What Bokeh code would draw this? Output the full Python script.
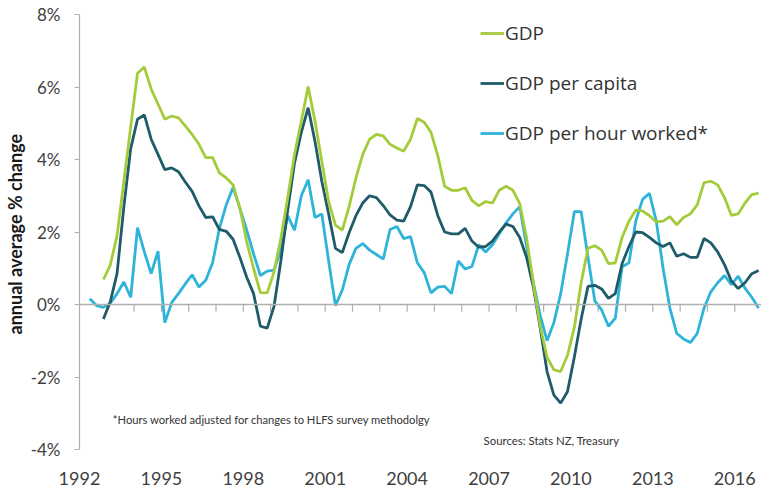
import pandas as pd
from bokeh.plotting import figure
from bokeh.models import Range1d, FixedTicker, Span, Legend, LegendItem, Label
from bokeh.embed import file_html
from bokeh.resources import INLINE

# ---------------- data ----------------
def quarter_positions(start, end):
    pr = pd.period_range(start, end, freq="Q")
    return [p.year + (p.quarter - 1) / 4 + 0.125 for p in pr]

quarters_gdp = quarter_positions("1992Q4", "2016Q4")
quarters_hour = quarter_positions("1992Q2", "2016Q4")

gdp = [0.69, 1.08, 1.9, 3.4, 4.9, 6.38, 6.55, 5.94, 5.53, 5.11,
       5.2, 5.15, 4.93, 4.69, 4.42, 4.05, 4.05, 3.63, 3.49, 3.3,
       2.66, 1.73, 1.0, 0.33, 0.32, 0.9, 1.83, 2.94, 4.14, 5.06,
       6.01, 5.06, 3.95, 2.84, 2.19, 2.05, 2.7, 3.49, 4.14, 4.56,
       4.69, 4.65, 4.42, 4.32, 4.23, 4.56, 5.13, 5.03, 4.75, 4.1,
       3.26, 3.15, 3.15, 3.22, 2.87, 2.72, 2.84, 2.8, 3.15, 3.26,
       3.15, 2.78, 1.85, 0.57, -0.6, -1.45, -1.8, -1.85, -1.4, -0.63,
       0.6, 1.55, 1.62, 1.5, 1.13, 1.15, 1.85, 2.3, 2.6, 2.58,
       2.45, 2.28, 2.3, 2.42, 2.2, 2.4, 2.5, 2.75, 3.36, 3.4,
       3.3, 2.95, 2.46, 2.5, 2.8, 3.03, 3.07]

gdp_per_capita = [-0.4, 0.07, 0.85, 2.7, 4.3, 5.11, 5.23, 4.56, 4.14, 3.72,
                  3.77, 3.66, 3.38, 3.12, 2.72, 2.4, 2.42, 2.07, 2.02, 1.8,
                  1.3, 0.75, 0.3, -0.6, -0.65, -0.05, 1.2, 2.6, 3.9, 4.75,
                  5.43, 4.5, 3.4, 2.5, 1.55, 1.43, 1.98, 2.45, 2.8, 3.0,
                  2.95, 2.73, 2.47, 2.33, 2.3, 2.7, 3.3, 3.28, 3.1, 2.45,
                  2.0, 1.95, 1.95, 2.1, 1.75, 1.58, 1.6, 1.75, 2.0, 2.22,
                  2.15, 1.85, 1.3, 0.48, -0.65, -1.85, -2.5, -2.72, -2.4, -1.45,
                  -0.4, 0.5, 0.53, 0.43, 0.17, 0.3, 1.13, 1.6, 2.0, 1.98,
                  1.85, 1.7, 1.6, 1.7, 1.33, 1.4, 1.3, 1.3, 1.82, 1.7,
                  1.45, 1.1, 0.65, 0.44, 0.6, 0.85, 0.94]

gdp_per_hour = [0.16, -0.03, -0.08, 0.03, 0.3, 0.62, 0.2, 2.12, 1.45, 0.85,
                1.47, -0.5, 0.05, 0.3, 0.57, 0.82, 0.48, 0.67, 1.15, 2.1,
                2.75, 3.23, 2.65, 2.05, 1.4, 0.8, 0.92, 0.95, 1.5, 2.45,
                2.05, 3.0, 3.44, 2.4, 2.5, 1.2, -0.03, 0.4, 1.1, 1.55,
                1.68, 1.5, 1.38, 1.25, 2.07, 2.15, 1.82, 1.87, 1.15, 0.88,
                0.32, 0.48, 0.5, 0.3, 1.2, 0.98, 1.05, 1.65, 1.45, 1.65,
                1.95, 2.25, 2.5, 2.7, 1.6, 0.6, -0.3, -1.0, -0.5, 0.3,
                1.4, 2.56, 2.56, 1.3, 0.1, -0.15, -0.6, -0.38, 1.04, 1.15,
                2.3, 2.9, 3.07, 2.3, 1.0, -0.1, -0.8, -0.95, -1.05, -0.8,
                -0.1, 0.35, 0.6, 0.8, 0.55, 0.78, 0.45, 0.2, -0.1]

series_names = ["GDP", "GDP per capita", "GDP per hour worked*"]
year_ticks = list(range(1993, 2018))
year_labels = [1992, 1995, 1998, 2001, 2004, 2007, 2010, 2013, 2016]
y_ticks = [-4, -2, 0, 2, 4, 6, 8]
y_tick_labels = ["-4%", "-2%", "0%", "2%", "4%", "6%", "8%"]

# ---------------- styling ----------------
GREEN = "#A4CC3A"
DARK = "#1F5B69"
CYAN = "#2DB4D8"
GREY = "#B0B0B0"
TEXT = "#404040"

p = figure(width=761, height=488,
           x_range=Range1d(1992, 2016.98), y_range=Range1d(-4, 8),
           output_backend="svg", toolbar_location=None,
           min_border_left=69, min_border_right=0,
           min_border_top=14, min_border_bottom=39)
p.outline_line_color = None
p.xgrid.visible = False
p.ygrid.visible = False
p.background_fill_color = "white"
p.border_fill_color = "white"

# y axis
p.yaxis.ticker = FixedTicker(ticks=y_ticks)
p.yaxis.major_label_overrides = {t: l for t, l in zip(y_ticks, y_tick_labels)}
p.yaxis.axis_line_color = GREY
p.yaxis.axis_line_width = 1.2
p.yaxis.major_tick_line_color = GREY
p.yaxis.major_tick_out = 5
p.yaxis.major_tick_in = 0
p.yaxis.minor_tick_line_color = None
p.yaxis.major_label_standoff = 14
p.yaxis.major_label_text_font = "Lato"
p.yaxis.major_label_text_font_size = "17px"
p.yaxis.major_label_text_color = TEXT
p.yaxis.axis_label = "annual  average % change"
p.yaxis.axis_label_text_font = "Lato"
p.yaxis.axis_label_text_font_size = "18px"
p.yaxis.axis_label_text_font_style = "bold"
p.yaxis.axis_label_text_color = "#1a1a1a"
p.yaxis.axis_label_standoff = 2

# x axis (labels only)
p.xaxis.ticker = FixedTicker(ticks=year_labels)
p.xaxis.axis_line_color = None
p.xaxis.major_tick_line_color = None
p.xaxis.minor_tick_line_color = None
p.xaxis.major_label_standoff = 16
p.xaxis.major_label_text_font = "Lato"
p.xaxis.major_label_text_font_size = "18px"
p.xaxis.major_label_text_color = TEXT

# zero line with yearly ticks
p.add_layout(Span(location=0, dimension="width", line_color=GREY, line_width=1.5))
p.segment(x0=year_ticks, y0=[0] * len(year_ticks), x1=year_ticks,
          y1=[-0.2] * len(year_ticks), line_color=GREY, line_width=1.2)

# series
r_hour = p.line(quarters_hour, gdp_per_hour, line_color=CYAN, line_width=2.8)
r_cap = p.line(quarters_gdp, gdp_per_capita, line_color=DARK, line_width=2.8)
r_gdp = p.line(quarters_gdp, gdp, line_color=GREEN, line_width=2.8)

legend = Legend(items=[LegendItem(label=series_names[0], renderers=[r_gdp]),
                       LegendItem(label=series_names[1], renderers=[r_cap]),
                       LegendItem(label=series_names[2], renderers=[r_hour])],
                location=(401, 303), orientation="vertical",
                label_text_font="Open Sans", label_text_font_size="19px",
                label_text_color="#333333",
                glyph_width=24, glyph_height=20, label_height=20,
                spacing=24, padding=0, margin=0, label_standoff=1,
                border_line_alpha=0, background_fill_alpha=0)
p.add_layout(legend)

p.add_layout(Label(x=1993.22, y=-3.17,
                   text="*Hours worked adjusted for changes to HLFS survey methodolgy",
                   text_font="Lato", text_font_size="11.2px", text_color="#333333",
                   text_baseline="middle"))
p.add_layout(Label(x=2006.8, y=-3.75, text="Sources:  Stats NZ, Treasury",
                   text_font="Lato", text_font_size="11.4px", text_color="#333333",
                   text_baseline="middle"))

open("out.html", "w").write(file_html(p, INLINE))
